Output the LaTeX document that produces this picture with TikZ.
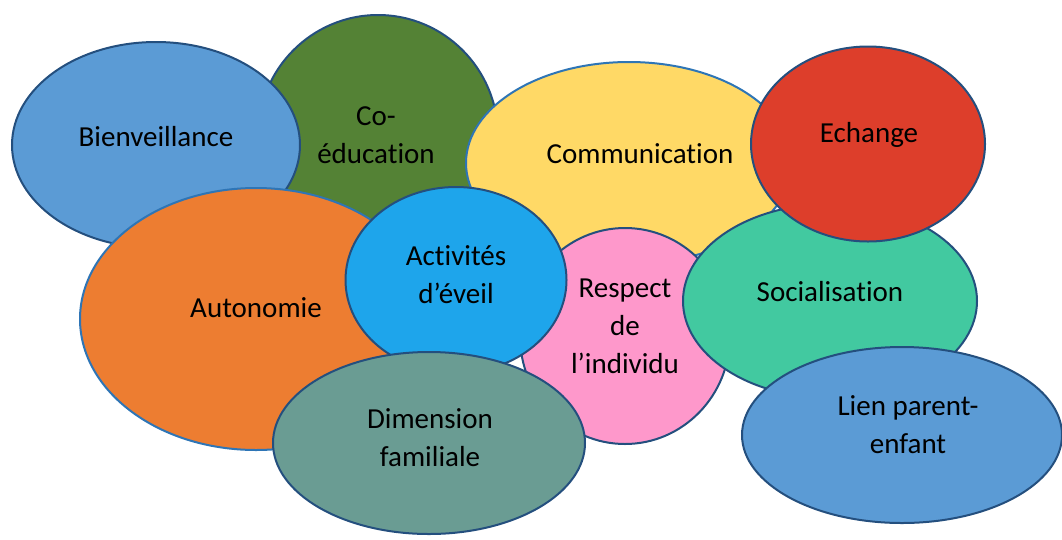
\documentclass[tikz,border=0pt]{standalone}
\usepackage{fontspec}
\setmainfont{Carlito}[Ligatures={NoCommon}]
\usetikzlibrary{shapes.geometric}
\definecolor{cgreen}{HTML}{548235}
\definecolor{cblue}{HTML}{5B9BD5}
\definecolor{cyellow}{HTML}{FFD966}
\definecolor{cred}{HTML}{DD3E2B}
\definecolor{cteal}{HTML}{42C9A0}
\definecolor{corange}{HTML}{ED7D31}
\definecolor{csky}{HTML}{1EA5EB}
\definecolor{cpink}{HTML}{FE98CB}
\definecolor{cgrey}{HTML}{6A9C93}
\definecolor{edgedark}{HTML}{244F7E}
\definecolor{edgelight}{HTML}{2E75B6}
\tikzset{
  bub/.style={ellipse, draw=edgedark, line width=2pt, inner sep=0pt, outer sep=0pt},
  bublight/.style={bub, draw=edgelight},
  lab/.style={inner sep=0pt, align=center, font=\fontsize{29}{38}\selectfont, text=black}
}
\begin{document}
\begin{tikzpicture}[x=1pt,y=-1pt]
\useasboundingbox (0,0) rectangle (1062,539);
% Co-education
\node[bub, fill=cgreen, minimum width=240pt, minimum height=242pt] (coedu) at (378,136) {};
\node[lab] (tcoedu) at (376,135) {Co-\\éducation};
% Bienveillance
\node[bub, fill=cblue, minimum width=288pt, minimum height=206pt] (bienv) at (156,145) {};
\node[lab] (tbienv) at (156,137) {Bienveillance};
% Communication
\node[bublight, fill=cyellow, minimum width=326pt, minimum height=202pt] (comm) at (629,163) {};
\node[lab] (tcomm) at (640,154) {Communication};
% Autonomie
\node[bublight, fill=corange, minimum width=352pt, minimum height=262pt] (auto) at (256,319) {};
\node[lab] (tauto) at (256,308) {Autonomie};
% Respect
\node[bub, fill=cpink, minimum width=210pt, minimum height=216pt] (resp) at (625,336) {};
\node[lab] (tresp) at (625,326) {Respect\\de\\l’individu};
% Socialisation
\node[bub, fill=cteal, minimum width=294pt, minimum height=194pt] (soc) at (830,301) {};
\node[lab] (tsoc) at (830,292) {Socialisation};
% Echange
\node[bub, fill=cred, minimum width=234pt, minimum height=195pt] (ech) at (868,144) {};
\node[lab] (tech) at (869,135) {Echange};
% Activites d'eveil
\node[bub, fill=csky, minimum width=221pt, minimum height=186pt] (act) at (456,280) {};
\node[lab] (tact) at (456,275) {Activités\\d’éveil};
% Dimension familiale
\node[bub, fill=cgrey, minimum width=312pt, minimum height=182pt] (dim) at (429,443) {};
\node[lab] (tdim) at (430,438) {Dimension\\familiale};
% Lien parent-enfant
\node[bub, fill=cblue, minimum width=320pt, minimum height=176pt] (lien) at (902,435) {};
\node[lab] (tlien) at (908,425) {Lien parent-\\enfant};
\end{tikzpicture}
\end{document}
